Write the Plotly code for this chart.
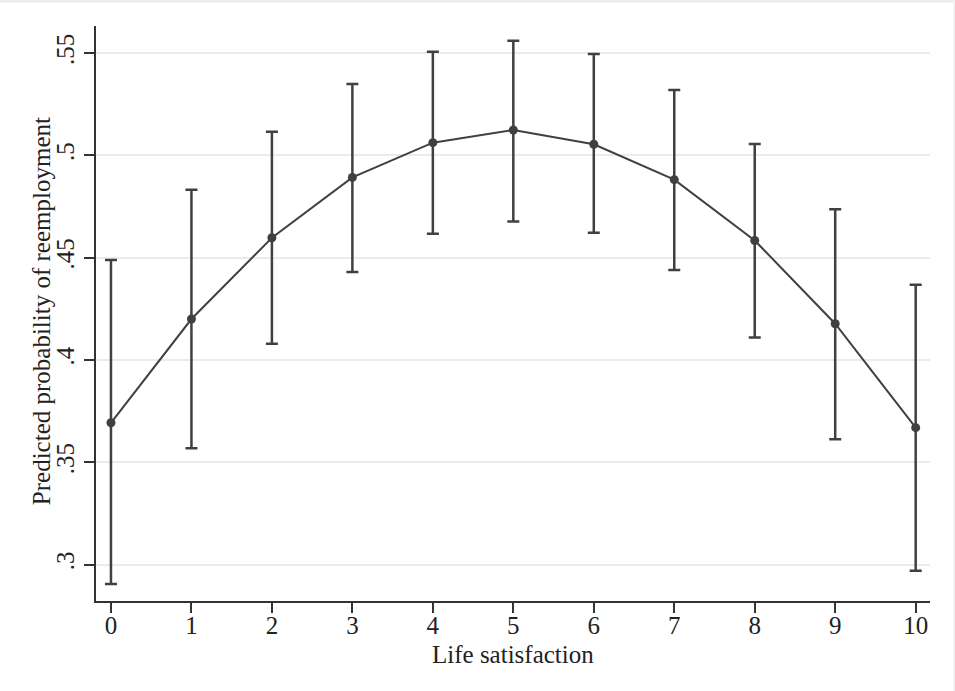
import plotly.graph_objects as go

life_satisfaction = [0, 1, 2, 3, 4, 5, 6, 7, 8, 9, 10]
predicted = [0.3693, 0.4200, 0.4597, 0.4892, 0.5062, 0.5124, 0.5054, 0.4881, 0.4584, 0.4177, 0.3669]
ci_upper = [0.4488, 0.4832, 0.5115, 0.5348, 0.5506, 0.5560, 0.5495, 0.5319, 0.5055, 0.4736, 0.4368]
ci_lower = [0.2905, 0.3568, 0.4079, 0.4430, 0.4617, 0.4676, 0.4622, 0.4439, 0.4110, 0.3613, 0.2970]
y_tickvals = [0.3, 0.35, 0.4, 0.45, 0.5, 0.55]
y_ticktext = [".3", ".35", ".4", ".45", ".5", ".55"]
x_title = "Life satisfaction"
y_title = "Predicted probability of reemployment"

dark = "#404040"
font = "Liberation Serif, Times New Roman, serif"
fs = 25

fig = go.Figure()
fig.add_trace(go.Scatter(
    x=life_satisfaction,
    y=predicted,
    mode="lines+markers",
    line=dict(color=dark, width=2),
    marker=dict(color=dark, size=9, symbol="circle"),
    error_y=dict(
        type="data",
        symmetric=False,
        array=[u - p for u, p in zip(ci_upper, predicted)],
        arrayminus=[p - l for p, l in zip(predicted, ci_lower)],
        color=dark,
        thickness=2.5,
        width=6,
    ),
    showlegend=False,
))

fig.update_layout(
    width=955,
    height=691,
    margin=dict(l=96, r=25, t=26, b=90),
    paper_bgcolor="white",
    plot_bgcolor="white",
    font=dict(family=font, color="#222222", size=fs),
    xaxis=dict(
        range=[-0.186, 10.178],
        tickvals=life_satisfaction,
        ticks="outside",
        ticklen=10,
        tickwidth=1.5,
        tickcolor="#333333",
        showline=True,
        linecolor="#333333",
        linewidth=2,
        showgrid=False,
        zeroline=False,
        ticklabelstandoff=-9,
        tickfont=dict(family=font, size=fs, color="#222222"),
    ),
    yaxis=dict(
        range=[0.2822, 0.5632],
        tickvals=y_tickvals,
        ticktext=y_ticktext,
        tickangle=-90,
        ticks="outside",
        ticklen=10,
        tickwidth=1.5,
        tickcolor="#333333",
        showline=True,
        linecolor="#333333",
        linewidth=2,
        showgrid=True,
        gridcolor="#ebebeb",
        gridwidth=2,
        zeroline=False,
        tickfont=dict(family=font, size=fs, color="#222222"),
    ),
    annotations=[
        dict(text=x_title, xref="paper", yref="paper", x=0.5, y=-0.093,
             xanchor="center", yanchor="middle", showarrow=False,
             font=dict(family=font, size=fs, color="#222222")),
        dict(text=y_title, xref="paper", yref="paper", x=-0.066, y=0.504,
             xanchor="center", yanchor="middle", showarrow=False, textangle=-90,
             font=dict(family=font, size=fs, color="#222222")),
    ],
    shapes=[
        dict(type="line", xref="paper", yref="paper", x0=-0.2, x1=1.1, y0=1.043, y1=1.043,
             line=dict(color="#e8e8e8", width=2)),
        dict(type="line", xref="paper", yref="paper", x0=1.029, x1=1.029, y0=-0.2, y1=1.1,
             line=dict(color="#f0f0f0", width=2)),
    ],
)

fig.write_html("out.html")
